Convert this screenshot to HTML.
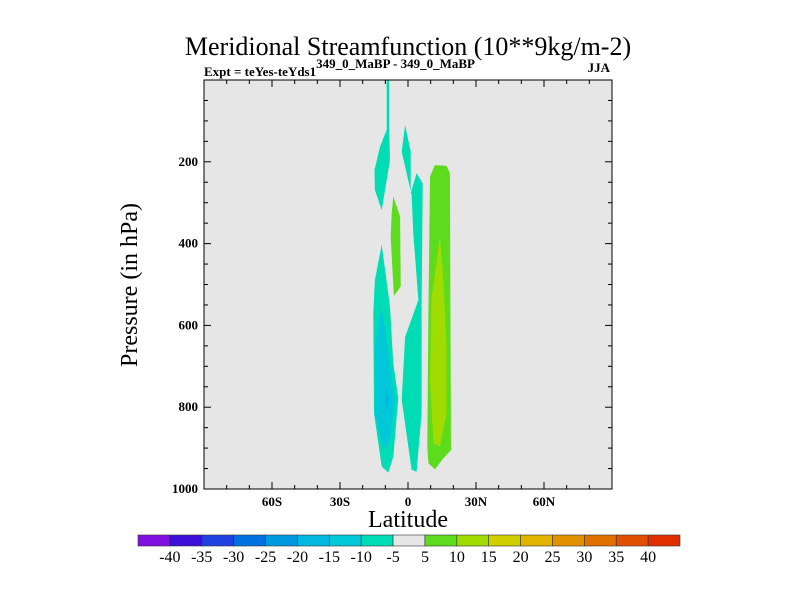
<!DOCTYPE html>
<html><head><meta charset="utf-8"><style>
body{margin:0;background:#fff;}
svg text{font-family:"Liberation Serif",serif;}
</style></head><body>
<svg id="chart" width="800" height="600" xmlns="http://www.w3.org/2000/svg">
<text x="408" y="55" font-size="26" text-anchor="middle">Meridional Streamfunction (10**9kg/m-2)</text>
<text x="204" y="76" font-size="13" font-weight="bold">Expt = teYes-teYds1<tspan dy="-8">349_0_MaBP - 349_0_MaBP</tspan></text>
<text x="610" y="72" font-size="13" font-weight="bold" text-anchor="end">JJA</text>
<rect x="204" y="80" width="408" height="409" fill="#e6e6e6"/>
<g id="contours"></g>
<g id="axes"></g>
<rect x="204" y="80" width="408" height="409" fill="none" stroke="#000" stroke-width="1"/>
<text x="408" y="527" font-size="24" text-anchor="middle">Latitude</text>
<text transform="translate(137,285) rotate(-90)" font-size="24" text-anchor="middle">Pressure (in hPa)</text>
<g id="colorbar"></g>
</svg>
<script>
const xTicks=[-60,-30,0,30,60];
const xTickLabels=["60S","30S","0","30N","60N"];
const yTicks=[200,400,600,800,1000];
const cbLevels=[-40,-35,-30,-25,-20,-15,-10,-5,5,10,15,20,25,30,35,40];
const cbColors=["#7f10e0","#3c10d8","#2040e0","#0070e0","#0098e0","#00b8e0","#00c8d8","#00dcb4","#e6e6e6","#5cdc1c","#a0dc00","#d0d000","#e0b400","#e09000","#e07000","#e05000","#e03000"];
const regionColors=[7,7,9,7,6,5,9,10];
const regions=[
[[-9.4,0],[-8.3,0],[-8.3,130],[-7.95,196],[-11.6,318],[-14.6,269],[-14.8,220],[-12.35,163],[-9.4,122]],
[[-1.3,110],[1.2,175],[1.2,277],[3.8,228],[6.5,253],[6.0,554],[6.0,815],[3.8,958],[1.6,953],[-2.8,782],[-1.3,628],[4.6,538],[2.35,375],[1.6,281],[-2.8,175]],
[[-6.5,285],[-3.5,334],[-3.2,505],[-6.2,528],[-7.65,383],[-7.2,326]],
[[-11.6,403],[-7.95,554],[-6.5,693],[-4.3,778],[-6.5,921],[-8.7,960],[-11.6,945],[-15.0,815],[-15.3,570],[-14.6,489]],
[[-11.6,554],[-7.95,693],[-5.7,782],[-7.95,880],[-10.8,905],[-14.6,815],[-14.6,652]],
[[-9.4,750],[-8.3,782],[-9.4,815],[-10.1,782]],
[[11.9,208],[17.0,210],[18.5,228],[18.97,905],[15.6,925],[11.9,952],[9.0,937],[8.5,896],[9.0,570],[9.7,236]],
[[14.1,383],[15.6,489],[17.0,652],[17.0,815],[14.1,896],[11.2,888],[9.7,733],[10.4,530],[11.9,473]]
];
const NS="http://www.w3.org/2000/svg";
const X0=204,X1=612,Y0=80,Y1=489;
function xs(lat){return X0+(lat+90)/180*(X1-X0);}
function ys(p){return Y0+p/1000*(Y1-Y0);}
function mk(t,a,parent){const e=document.createElementNS(NS,t);for(const k in a)e.setAttribute(k,a[k]);parent.appendChild(e);return e;}
const cg=document.getElementById('contours');
regions.forEach((r,i)=>{
  const e=mk('polygon',{points:r.map(q=>xs(q[0]).toFixed(1)+','+ys(q[1]).toFixed(1)).join(' '),fill:cbColors[regionColors[i]]},cg);
  
  
});
const ag=document.getElementById('axes');
for(let lat=-80;lat<=80;lat+=10){
  const L=(lat%30===0)?7:4;
  const t1=mk('line',{x1:xs(lat),x2:xs(lat),y1:Y1,y2:Y1-L,stroke:'#000'},ag);
  
  const t2=mk('line',{x1:xs(lat),x2:xs(lat),y1:Y0,y2:Y0+L,stroke:'#000'},ag);
  
}
xTicks.forEach((v,i)=>{
  const t=mk('text',{x:xs(v),y:Y1+17,'font-size':13,'font-weight':'bold','text-anchor':'middle'},ag);
  t.textContent=xTickLabels[i];
  
});
for(let p=50;p<1000;p+=50){
  const L=(p%200===0)?7:4;
  const t1=mk('line',{x1:X0,x2:X0+L,y1:ys(p),y2:ys(p),stroke:'#000'},ag);
  
  const t2=mk('line',{x1:X1,x2:X1-L,y1:ys(p),y2:ys(p),stroke:'#000'},ag);
  
}
yTicks.forEach(v=>{
  const t=mk('text',{x:X0-6,y:ys(v)+4,'font-size':13,'font-weight':'bold','text-anchor':'end'},ag);
  t.textContent=v;
  
});
const cb=document.getElementById('colorbar');
const CBX=138,CBW=542,CBY=535,CBH=11,bw=CBW/cbColors.length;
cbColors.forEach((c,i)=>{
  const r=mk('rect',{x:CBX+i*bw,y:CBY,width:bw,height:CBH,fill:c,stroke:'#333','stroke-width':0.6},cb);
  
});
cbLevels.forEach((v,i)=>{
  const t=mk('text',{x:CBX+(i+1)*bw,y:CBY+CBH+16,'font-size':16,'text-anchor':'middle'},cb);
  t.textContent=v;
  
});
</script>
</body></html>
